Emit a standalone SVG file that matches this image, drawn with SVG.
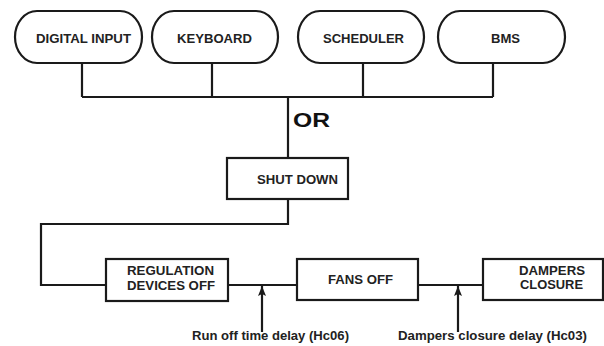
<svg xmlns="http://www.w3.org/2000/svg" width="604" height="346" viewBox="0 0 604 346">
<style>
.n{fill:#fff;stroke:#1a1a1a;stroke-width:2.2}
.t{font-family:"Liberation Sans",Arial,sans-serif;font-weight:bold;font-size:12.5px;fill:#222;text-anchor:middle}
.c{fill:none;stroke:#1a1a1a;stroke-width:2.2}
</style>
<defs>
<marker id="ah" viewBox="0 0 10 8" refX="10" refY="4" markerWidth="10" markerHeight="8" markerUnits="userSpaceOnUse" orient="auto">
<path d="M0,0 L10,4 L0,8 L2,4 Z" fill="#1a1a1a"/>
</marker>
</defs>
<rect width="604" height="346" fill="#fff"/>
<g id="connectors">
<path class="c" d="M82,63 V97 M212,63 V97 M363,63 V97 M493,63 V97 M82,97 H493 M288,97 V158"/>
<path class="c" d="M288,199 V224 H41 V285 H106"/>
<path class="c" d="M228,285 H297"/>
<path class="c" d="M418,285 H483"/>
<line class="c" x1="262" y1="332" x2="262" y2="286" marker-end="url(#ah)"/>
<line class="c" x1="458" y1="332" x2="458" y2="286" marker-end="url(#ah)"/>
</g>
<g id="digital-input"><rect class="n" x="15" y="11" width="127" height="52" rx="22" ry="26"/><text class="t" x="83.5" y="43" textLength="95" lengthAdjust="spacingAndGlyphs">DIGITAL INPUT</text></g>
<g id="keyboard"><rect class="n" x="152" y="11" width="126" height="52" rx="22" ry="26"/><text class="t" x="214.5" y="43" textLength="75" lengthAdjust="spacingAndGlyphs">KEYBOARD</text></g>
<g id="scheduler"><rect class="n" x="298" y="11" width="126" height="52" rx="22" ry="26"/><text class="t" x="363.5" y="43" textLength="81" lengthAdjust="spacingAndGlyphs">SCHEDULER</text></g>
<g id="bms"><rect class="n" x="438" y="11" width="127" height="52" rx="22" ry="26"/><text class="t" x="505.5" y="43" textLength="29" lengthAdjust="spacingAndGlyphs">BMS</text></g>
<g id="or"><text x="293" y="127" font-family="Liberation Sans,Arial,sans-serif" font-weight="bold" font-size="21" fill="#111" textLength="37" lengthAdjust="spacingAndGlyphs">OR</text></g>
<g id="shut-down"><rect class="n" x="227" y="158" width="121" height="41"/><text class="t" x="297.5" y="184" textLength="81" lengthAdjust="spacingAndGlyphs">SHUT DOWN</text></g>
<g id="regulation"><rect class="n" x="106" y="259" width="122" height="42"/><text class="t" x="170.5" y="275" textLength="87" lengthAdjust="spacingAndGlyphs">REGULATION</text><text class="t" x="171" y="290" textLength="88" lengthAdjust="spacingAndGlyphs">DEVICES OFF</text></g>
<g id="fans-off"><rect class="n" x="297" y="259" width="121" height="41"/><text class="t" x="360.5" y="284" textLength="65" lengthAdjust="spacingAndGlyphs">FANS OFF</text></g>
<g id="dampers"><rect class="n" x="483" y="259" width="120" height="41"/><text class="t" x="552" y="275" textLength="66" lengthAdjust="spacingAndGlyphs">DAMPERS</text><text class="t" x="551.5" y="289" textLength="63" lengthAdjust="spacingAndGlyphs">CLOSURE</text></g>
<g id="label-hc06"><text class="t" x="270.5" y="340" textLength="157" lengthAdjust="spacingAndGlyphs">Run off time delay (Hc06)</text></g>
<g id="label-hc03"><text class="t" x="492.5" y="340" textLength="189" lengthAdjust="spacingAndGlyphs">Dampers closure delay (Hc03)</text></g>
</svg>
